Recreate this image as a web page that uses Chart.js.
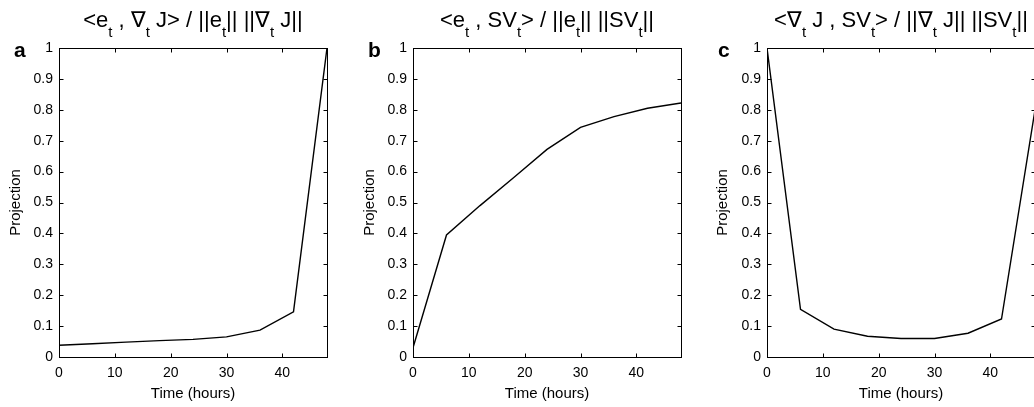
<!DOCTYPE html>
<html><head><meta charset="utf-8">
<script src="https://cdn.jsdelivr.net/npm/chart.js@4"></script>
<style>
html,body{margin:0;padding:0;background:#fff;overflow:hidden;width:1034px;height:407px;position:relative;}
canvas{position:absolute;top:0;}
</style></head><body>
<canvas id="ca" width="345" height="407" style="left:0px"></canvas>
<canvas id="cb" width="345" height="407" style="left:345px"></canvas>
<canvas id="cc" width="360" height="407" style="left:690px"></canvas>
<script>
// ---- data ----
const hours = [0, 6, 12, 18, 24, 30, 36, 42, 48];
const projA = [0.038, 0.043, 0.048, 0.053, 0.057, 0.065, 0.087, 0.146, 1.0];
const projB = [0.03, 0.395, 0.49, 0.58, 0.672, 0.743, 0.778, 0.805, 0.822];
const projC = [1.0, 0.154, 0.09, 0.067, 0.060, 0.060, 0.077, 0.123, 0.80];
const xTicks = [0, 10, 20, 30, 40];
const yTicks = [0, 0.1, 0.2, 0.3, 0.4, 0.5, 0.6, 0.7, 0.8, 0.9, 1];
const xTitle = 'Time (hours)';
const yTitle = 'Projection';
// title segments: [text, isSubscript]
const titleA = [['<e',0],['t',1],[' , \u2207',0],['t',1],[' J> / ||e',0],['t',1],['|| ||\u2207',0],['t',1],[' J||',0]];
const titleB = [['<e',0],['t',1],[' , SV',0],['t',1],['> / ||e',0],['t',1],['|| ||SV',0],['t',1],['||',0]];
const titleC = [['<\u2207',0],['t',1],[' J , SV',0],['t',1],['> / ||\u2207',0],['t',1],[' J|| ||SV',0],['t',1],['||',0]];

const FONT = '"Liberation Sans", Arial, Helvetica, sans-serif';

const frame = {
  id: 'frame',
  afterDatasetsDraw(chart) {
    const ctx = chart.ctx, a = chart.chartArea;
    const L = Math.round(a.left) + 0.5, R = Math.round(a.right) + 0.5;
    const T = Math.round(a.top) + 0.5, B = Math.round(a.bottom) + 0.5;
    ctx.save();
    ctx.strokeStyle = '#000'; ctx.lineWidth = 1;
    ctx.strokeRect(L, T, R - L, B - T);
    const tl = 4;
    ctx.beginPath();
    chart.scales.x.ticks.forEach(t => {
      const px = Math.round(chart.scales.x.getPixelForValue(t.value)) + 0.5;
      ctx.moveTo(px, B); ctx.lineTo(px, B - tl);
      ctx.moveTo(px, T); ctx.lineTo(px, T + tl);
    });
    chart.scales.y.ticks.forEach(t => {
      const py = Math.round(chart.scales.y.getPixelForValue(t.value)) + 0.5;
      ctx.moveTo(L, py); ctx.lineTo(L + tl, py);
      ctx.moveTo(R, py); ctx.lineTo(R - tl, py);
    });
    ctx.stroke();
    ctx.restore();
  }
};

const richTitle = {
  id: 'richTitle',
  afterDraw(chart, args, o) {
    const ctx = chart.ctx, a = chart.chartArea;
    const mainF = o.mainSize + 'px ' + FONT, subF = o.subSize + 'px ' + FONT;
    ctx.save();
    ctx.fillStyle = '#000'; ctx.textAlign = 'left'; ctx.textBaseline = 'alphabetic';
    let w = 0;
    o.segments.forEach(([t, s]) => { ctx.font = s ? subF : mainF; w += ctx.measureText(t).width; });
    let x = (a.left + a.right) / 2 - w / 2;
    o.segments.forEach(([t, s]) => {
      ctx.font = s ? subF : mainF;
      ctx.fillText(t, x, s ? o.baseline + o.subOffset : o.baseline);
      x += ctx.measureText(t).width;
    });
    ctx.font = 'bold ' + o.letterSize + 'px ' + FONT;
    ctx.fillText(o.letter, o.letterX, o.letterY);
    ctx.restore();
  }
};

function makeChart(id, values, segs, letter, letterX, yWidth, padRight, yTitlePad) {
  return new Chart(document.getElementById(id), {
    type: 'line',
    data: { datasets: [{ data: hours.map((h, i) => ({ x: h, y: values[i] })),
      borderColor: '#000', borderWidth: 1.4, pointRadius: 0, tension: 0, fill: false }] },
    options: {
      responsive: false, animation: false, devicePixelRatio: 1,
      layout: { padding: { top: 48, right: padRight, bottom: 0, left: 0 } },
      plugins: { legend: { display: false }, tooltip: { enabled: false },
        richTitle: { segments: segs, mainSize: 22, subSize: 15, baseline: 27, subOffset: 10,
          letter: letter, letterX: letterX, letterY: 57, letterSize: 21 } },
      scales: {
        x: { type: 'linear', min: 0, max: 48,
          afterBuildTicks: s => { s.ticks = xTicks.map(v => ({ value: v })); },
          grid: { display: false, drawTicks: false }, border: { display: false },
          ticks: { padding: 8, color: '#000', font: { family: FONT, size: 14 }, maxRotation: 0, autoSkip: false },
          title: { display: true, text: xTitle, color: '#000', font: { family: FONT, size: 15 }, padding: { top: 0, bottom: 4 } },
          afterFit: s => { s.height = 50; } },
        y: { type: 'linear', min: 0, max: 1,
          afterBuildTicks: s => { s.ticks = yTicks.map(v => ({ value: v })); },
          grid: { display: false, drawTicks: false }, border: { display: false },
          ticks: { padding: 6, color: '#000', font: { family: FONT, size: 14 }, autoSkip: false,
            callback: v => String(Number(v.toFixed(1))) },
          title: { display: true, text: yTitle, color: '#000', font: { family: FONT, size: 15 }, padding: { top: yTitlePad, bottom: 0 } },
          afterFit: s => { s.width = yWidth; } }
      }
    },
    plugins: [frame, richTitle]
  });
}

makeChart('ca', projA, titleA, 'a', 14, 59, 18, 7);
makeChart('cb', projB, titleB, 'b', 23, 68, 9, 16);
makeChart('cc', projC, titleC, 'c', 28, 77, 15, 24);
</script>
</body></html>
